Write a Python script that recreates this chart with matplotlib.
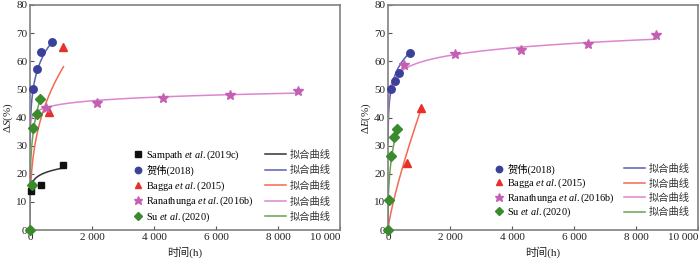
import numpy as np
import matplotlib
matplotlib.use("Agg")
import matplotlib.pyplot as plt
from matplotlib.lines import Line2D
from matplotlib.legend import Legend

plt.rcParams['font.family'] = ['Liberation Serif', 'Noto Sans CJK SC']
plt.rcParams['mathtext.fontset'] = 'custom'
plt.rcParams['mathtext.rm'] = 'Liberation Serif'
plt.rcParams['mathtext.it'] = 'Liberation Serif:italic'

# ---------------- data: left panel (ΔS) ----------------
s_labels = ['Sampath $\\mathit{et\\ al.}$(2019c)', '贺伟(2018)', 'Bagga $\\mathit{et\\ al.}$(2015)',
            'Ranathunga $\\mathit{et\\ al.}$(2016b)', 'Su $\\mathit{et\\ al.}$(2020)']
s_sampath_t = [20, 350, 1060]
s_sampath_v = [13.7, 16.0, 23.0]
s_hewei_t = [100, 230, 350, 700]
s_hewei_v = [50.0, 57.2, 63.2, 66.7]
s_bagga_t = [600, 1080]
s_bagga_v = [42.0, 65.0]
s_rana_t = [500, 2150, 4300, 6450, 8650]
s_rana_v = [43.5, 45.0, 47.0, 48.0, 49.5]
s_su_t = [0, 50, 100, 230, 330]
s_su_v = [0.0, 16.0, 36.2, 41.3, 46.5]
# fitted curves y = a * t^b : (a, b, t_start, t_end)
s_fit_a = [10.9, 25.3, 5.4, 34.0, 10.9]
s_fit_b = [0.101, 0.148, 0.34, 0.0396, 0.25]
s_fit_t0 = [40, 3, 20, 20, 0]
s_fit_t1 = [1060, 700, 1080, 8650, 330]

# ---------------- data: right panel (ΔE) ----------------
e_labels = ['贺伟(2018)', 'Bagga $\\mathit{et\\ al.}$(2015)',
            'Ranathunga $\\mathit{et\\ al.}$(2016b)', 'Su $\\mathit{et\\ al.}$(2020)']
e_hewei_t = [100, 230, 350, 700]
e_hewei_v = [50.0, 53.0, 56.0, 63.0]
e_bagga_t = [600, 1080]
e_bagga_v = [24.0, 43.3]
e_rana_t = [500, 2150, 4300, 6450, 8650]
e_rana_v = [58.5, 62.5, 64.0, 66.0, 69.5]
e_su_t = [0, 20, 100, 200, 300]
e_su_v = [0.0, 10.5, 26.2, 33.0, 36.0]
e_fit_a = [28.9, 0.1624, 39.1, 4.89]
e_fit_b = [0.119, 0.8, 0.0608, 0.35]
e_fit_t0 = [2, 0, 1, 0]
e_fit_t1 = [700, 1080, 8650, 300]

xticks = [0, 2000, 4000, 6000, 8000, 10000]
xticklabels = ['0', '2 000', '4 000', '6 000', '8 000', '10 000']
yticks = [0, 10, 20, 30, 40, 50, 60, 70, 80]
fit_label = '拟合曲线'

# styles
mk_colors = ['#111111', '#3b4199', '#e8302a', '#c460b4', '#3b8a2e']
ln_colors = ['#333333', '#5a5fb5', '#f26a50', '#dc86cf', '#6aa34e']
markers = ['s', 'o', '^', '*', 'D']
msizes = [4.6, 5.4, 5.8, 7.5, 4.6]

fig = plt.figure(figsize=(7.0, 2.63), dpi=100)
W, H = 700.0, 263.0
top = 5
axL = fig.add_axes([30 / W, 1 - 230 / H, 310 / W, (230 - top) / H])
axR = fig.add_axes([388 / W, 1 - 230 / H, 310 / W, (230 - top) / H])

fs = 8
lfs = 7.4


def style_axes(ax, ylabel):
    ax.set_xlim(0, 10000)
    ax.set_ylim(0, 80)
    ax.set_xticks(xticks)
    ax.set_xticklabels(xticklabels)
    ax.set_yticks(yticks)
    ax.tick_params(direction='in', length=3, width=0.8, labelsize=fs, colors='#555555',
                   labelcolor='#222222', pad=2)
    ax.get_xticklabels()[-1].set_horizontalalignment('right')
    for sp in ax.spines.values():
        sp.set_color('#808080')
        sp.set_linewidth(1.2)
    ax.set_xlabel('时间(h)', fontsize=fs, labelpad=3, color='#222222')
    ax.set_ylabel(ylabel, fontsize=fs, labelpad=1, color='#222222')


def draw(ax, ts, vs, fa, fb, t0, t1, idxs):
    mh, lh = [], []
    for k, i in enumerate(idxs):
        tt = np.linspace(t0[k], t1[k], 400)
        yy = fa[k] * np.power(tt, fb[k])
        ax.plot(tt, yy, color=ln_colors[i], lw=1.1, zorder=2)
        m, = ax.plot(ts[k], vs[k], ls='none', marker=markers[i], ms=msizes[i],
                     color=mk_colors[i], mec=mk_colors[i], zorder=3, clip_on=False)
        mh.append(m)
        lh.append(Line2D([], [], color=ln_colors[i], lw=1.1))
    return mh, lh


mhL, lhL = draw(axL, [s_sampath_t, s_hewei_t, s_bagga_t, s_rana_t, s_su_t],
                [s_sampath_v, s_hewei_v, s_bagga_v, s_rana_v, s_su_v],
                s_fit_a, s_fit_b, s_fit_t0, s_fit_t1, [0, 1, 2, 3, 4])
mhR, lhR = draw(axR, [e_hewei_t, e_bagga_t, e_rana_t, e_su_t],
                [e_hewei_v, e_bagga_v, e_rana_v, e_su_v],
                e_fit_a, e_fit_b, e_fit_t0, e_fit_t1, [1, 2, 3, 4])

style_axes(axL, 'Δ$\\mathit{S}$(%)')
style_axes(axR, 'Δ$\\mathit{E}$(%)')


def add_legends(ax, mh, lh, labels, xm, xl, y0, dy):
    # one single-entry legend per row, so the rows are evenly spaced
    for r, (m, l, lab) in enumerate(zip(mh, lh, labels)):
        yc = 1 - (y0 + r * dy) / H
        leg1 = Legend(ax, [m], [lab], loc='center left', bbox_to_anchor=(xm / W, yc),
                      bbox_transform=fig.transFigure, frameon=False, fontsize=lfs,
                      handlelength=1.0, handletextpad=0.3, borderpad=0, borderaxespad=0,
                      markerscale=0.85)
        ax.add_artist(leg1)
        leg2 = Legend(ax, [l], [fit_label], loc='center left', bbox_to_anchor=(xl / W, yc),
                      bbox_transform=fig.transFigure, frameon=False, fontsize=lfs,
                      handlelength=2.0, handletextpad=0.45, borderpad=0, borderaxespad=0)
        for t in leg2.get_texts():
            t.set_color('#333333')
        ax.add_artist(leg2)


add_legends(axL, mhL, lhL, s_labels, 133, 265, 155, 15.5)
add_legends(axR, mhR, lhR, e_labels, 494, 624, 169, 14.5)

fig.savefig('out.png', dpi=100)
